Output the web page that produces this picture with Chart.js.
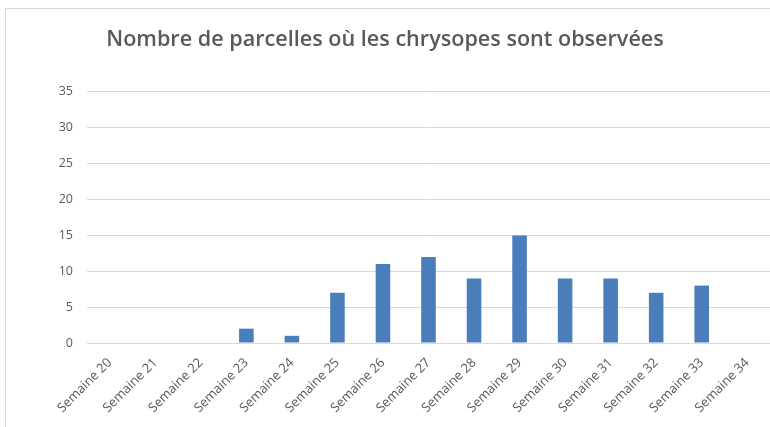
<!DOCTYPE html>
<html lang="fr">
<head>
    <title>Chrysopes</title>
    <script src="https://cdn.jsdelivr.net/npm/chart.js"></script>
    <style>
        body { margin: 0; background: #fff; }
        #frame { position: absolute; left: 5px; top: 8px; width: 800px; height: 440px; border: 1px solid #d9d9d9; }
        #wrap { position: absolute; left: 0; top: 0; width: 770px; height: 427px; }
    </style>
</head>
<body>
    <div id="frame"></div>
    <div id="wrap"><canvas id="chrysopesChart"></canvas></div>

    <script>
        const semaines = ["Semaine 20", "Semaine 21", "Semaine 22", "Semaine 23", "Semaine 24", "Semaine 25",
            "Semaine 26", "Semaine 27", "Semaine 28", "Semaine 29", "Semaine 30", "Semaine 31",
            "Semaine 32", "Semaine 33", "Semaine 34"];
        const parcelles = [0, 0, 0, 2, 1, 7, 11, 12, 9, 15, 9, 9, 7, 8, 0];
        const yTicks = [0, 5, 10, 15, 20, 25, 30, 35];

        const grey = "#595959";

        new Chart(document.getElementById("chrysopesChart"), {
            type: "bar",
            data: {
                labels: semaines,
                datasets: [{
                    label: "Nombre de parcelles",
                    data: parcelles,
                    backgroundColor: "#4a7ebb",
                    barPercentage: 0.32,
                    categoryPercentage: 1
                }]
            },
            options: {
                responsive: true,
                maintainAspectRatio: false,
                animation: false,
                layout: { padding: { left: 0, right: 0, top: 0, bottom: 0 } },
                plugins: {
                    legend: { display: false },
                    tooltip: { enabled: false },
                    title: {
                        display: true,
                        text: "Nombre de parcelles où les chrysopes sont observées",
                        color: grey,
                        font: { family: "Open Sans", size: 21.6, weight: "600" },
                        padding: { top: 27, bottom: 39 }
                    }
                },
                scales: {
                    x: {
                        grid: { display: false },
                        border: { display: false },
                        ticks: {
                            color: grey,
                            font: { family: "Open Sans", size: 13 },
                            minRotation: 45,
                            maxRotation: 45,
                            autoSkip: false,
                            padding: 4
                        },
                        afterFit: s => { s.height = 84; }
                    },
                    y: {
                        min: 0,
                        max: 35,
                        afterBuildTicks: s => { s.ticks = yTicks.map(v => ({ value: v })); },
                        grid: { color: "#d9d9d9", drawTicks: false },
                        border: { display: false },
                        ticks: {
                            color: grey,
                            font: { family: "Open Sans", size: 12.5 },
                            padding: 14
                        },
                        afterFit: s => { s.width = 87; }
                    }
                }
            }
        });
    </script>
</body>
</html>
